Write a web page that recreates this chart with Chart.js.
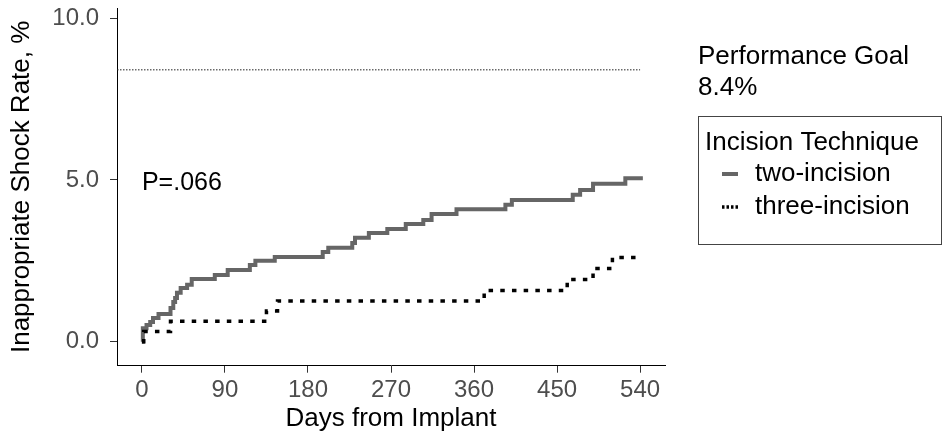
<!DOCTYPE html>
<html>
<head>
<meta charset="utf-8">
<script src="https://cdn.jsdelivr.net/npm/chart.js@4.4.1/dist/chart.umd.min.js"></script>
<style>
  html, body { margin: 0; padding: 0; background: #fff; }
</style>
</head>
<body>
<canvas id="kmChart" width="942" height="439"></canvas>
<script>
// axis ranges and ticks
const xMin = -27, xMax = 567;
const yMin = -0.74, yMax = 10.31;
const xTicks = [0, 90, 180, 270, 360, 450, 540];
const yTicks = [0, 5, 10];

// two-incision (cumulative rate, %)
const twoDays = [0, 1, 5, 9, 12, 18, 31, 34, 36, 38, 42, 49, 54, 79, 93, 117, 123, 144, 196, 202,
    228, 231, 246, 266, 286, 305, 314, 341, 394, 401, 467, 475, 489, 524, 543];
const twoRate = [0, 0.42, 0.52, 0.61, 0.73, 0.86, 1.04, 1.23, 1.35, 1.51, 1.66, 1.76, 1.94, 2.06, 2.22, 2.37, 2.50, 2.62, 2.77, 2.90,
    3.05, 3.21, 3.36, 3.48, 3.64, 3.76, 3.95, 4.09, 4.23, 4.38, 4.54, 4.69, 4.88, 5.05, 5.05];

// three-incision
const threeDays = [0, 2, 31, 135, 147, 371, 461, 489, 510, 542];
const threeRate = [0, 0.32, 0.63, 0.95, 1.26, 1.58, 1.92, 2.26, 2.60, 2.60];

// performance goal line
const goalDays = [xMin, 540];
const goalRate = [8.4, 8.4];

const pLabel = 'P=.066';
const pPos = [0, 4.9];

const FONT = '"Liberation Sans", Arial, Helvetica, sans-serif';
Chart.defaults.font.family = FONT;

const toPts = (xs, ys) => xs.map((x, i) => ({x: x, y: ys[i]}));

// annotation + legend drawn on the canvas
const extras = {
    id: 'extras',
    afterDraw(chart) {
        const ctx = chart.ctx;
        const {x, y} = chart.scales;
        ctx.save();
        ctx.fillStyle = '#000';
        ctx.textBaseline = 'middle';
        ctx.textAlign = 'left';
        ctx.font = `25px ${FONT}`;
        ctx.fillText(pLabel, x.getPixelForValue(pPos[0]), y.getPixelForValue(pPos[1]));

        ctx.font = `26px ${FONT}`;
        ctx.fillText('Performance Goal', 698, 57);
        ctx.fillText('8.4%', 698, 88);

        ctx.strokeStyle = '#444';
        ctx.lineWidth = 1;
        ctx.strokeRect(698.5, 116.5, 243, 128);

        ctx.fillText('Incision Technique', 705, 143);
        ctx.fillText('two-incision', 755, 174);
        ctx.fillText('three-incision', 755, 207);

        ctx.strokeStyle = '#666666';
        ctx.lineWidth = 4;
        ctx.beginPath();
        ctx.moveTo(722, 174);
        ctx.lineTo(738, 174);
        ctx.stroke();

        ctx.strokeStyle = '#000';
        ctx.lineWidth = 3.5;
        ctx.setLineDash([2.5, 2]);
        ctx.beginPath();
        ctx.moveTo(722, 207);
        ctx.lineTo(738, 207);
        ctx.stroke();
        ctx.restore();
    }
};

new Chart(document.getElementById('kmChart').getContext('2d'), {
    type: 'line',
    data: {
        datasets: [
            {
                label: 'three-incision',
                data: toPts(threeDays, threeRate),
                stepped: true,
                borderColor: '#000',
                borderWidth: 3.5,
                borderDash: [4.5, 7.2],
                borderCapStyle: 'butt',
                pointRadius: 0,
                fill: false,
                order: 0
            },
            {
                label: 'two-incision',
                data: toPts(twoDays, twoRate),
                stepped: true,
                borderColor: '#666666',
                borderWidth: 4,
                pointRadius: 0,
                fill: false,
                order: 1
            },
            {
                label: 'goal',
                data: toPts(goalDays, goalRate),
                borderColor: '#222',
                borderWidth: 1,
                borderDash: [1.5, 1.5],
                pointRadius: 0,
                fill: false,
                order: 2
            }
        ]
    },
    options: {
        responsive: false,
        animation: false,
        layout: {padding: {top: 8, right: 277, left: 0, bottom: 0}},
        plugins: {legend: {display: false}, tooltip: {enabled: false}},
        scales: {
            x: {
                type: 'linear',
                min: xMin,
                max: xMax,
                afterBuildTicks: s => { s.ticks = xTicks.map(v => ({value: v})); },
                afterFit: s => { s.height = 73.3; s.paddingLeft = 0; s.paddingRight = 0; },
                grid: {drawOnChartArea: false, drawTicks: true, tickLength: 7, color: '#333'},
                border: {display: true, color: '#000', width: 1},
                ticks: {color: '#4d4d4d', font: {size: 24}, padding: 3, maxRotation: 0},
                title: {display: true, text: 'Days from Implant', color: '#000',
                    font: {size: 26}, padding: {top: 0, bottom: 5}}
            },
            y: {
                type: 'linear',
                min: yMin,
                max: yMax,
                afterBuildTicks: s => { s.ticks = yTicks.map(v => ({value: v})); },
                afterFit: s => { s.width = 117; s.paddingTop = 0; s.paddingBottom = 0; },
                grid: {drawOnChartArea: false, drawTicks: true, tickLength: 7, color: '#333'},
                border: {display: true, color: '#000', width: 1},
                ticks: {color: '#4d4d4d', font: {size: 24}, padding: 11,
                    callback: v => v.toFixed(1)},
                title: {display: true, text: 'Inappropriate Shock Rate, %', color: '#000',
                    font: {size: 26}, padding: {top: 6, bottom: 0}}
            }
        }
    },
    plugins: [extras]
});
</script>
</body>
</html>
